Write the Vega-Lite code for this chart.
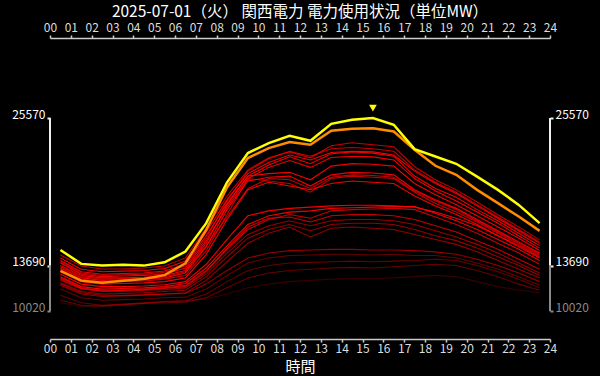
{
"$schema": "https://vega.github.io/schema/vega-lite/v6.json",
"width": 500, "height": 301,
"autosize": "none",
"padding": {"left": 50, "right": 50, "top": 38, "bottom": 37},
"background": "#000000",
"config": {"view": {"stroke": null}, "font": "Noto Sans CJK JP", "axis": {"grid": false}},
"title": {"text": "2025-07-01（火） 関西電力 電力使用状況（単位MW）", "color": "#ffffff", "fontSize": 15.5, "fontWeight": "normal", "font": "Noto Sans CJK JP", "offset": 4, "dy": 3, "anchor": "middle"},
"datasets": {
"frame": [
{"h": 0, "lo": 10020, "hi": 13690, "part": "lower"},
{"h": 0, "lo": 13690, "hi": 25570, "part": "upper"},
{"h": 24, "lo": 10020, "hi": 13690, "part": "lower"},
{"h": 24, "lo": 13690, "hi": 25570, "part": "upper"}
],
"load": [
{"s":"Y","k":0,"h":0.5,"v":14950},{"s":"Y","k":0,"h":1.5,"v":13830},{"s":"Y","k":0,"h":2.5,"v":13690},{"s":"Y","k":0,"h":3.5,"v":13750},{"s":"Y","k":0,"h":4.5,"v":13690},{"s":"Y","k":0,"h":5.5,"v":13960},{"s":"Y","k":0,"h":6.5,"v":14820},{"s":"Y","k":0,"h":7.5,"v":17110},{"s":"Y","k":0,"h":8.5,"v":20400},{"s":"Y","k":0,"h":9.5,"v":22750},{"s":"Y","k":0,"h":10.5,"v":23560},{"s":"Y","k":0,"h":11.5,"v":24140},{"s":"Y","k":0,"h":12.5,"v":23740},{"s":"Y","k":0,"h":13.5,"v":25110},{"s":"Y","k":0,"h":14.5,"v":25430},{"s":"Y","k":0,"h":15.5,"v":25570},{"s":"Y","k":0,"h":16.5,"v":25030},{"s":"Y","k":0,"h":17.5,"v":23070},{"s":"Y","k":0,"h":18.5,"v":22480},{"s":"Y","k":0,"h":19.5,"v":21890},{"s":"Y","k":0,"h":20.5,"v":20860},{"s":"Y","k":0,"h":21.5,"v":19790},{"s":"Y","k":0,"h":22.5,"v":18580},{"s":"Y","k":0,"h":23.5,"v":17110},
{"s":"O","k":0,"h":0.5,"v":13260},{"s":"O","k":0,"h":1.5,"v":12480},{"s":"O","k":0,"h":2.5,"v":12320},{"s":"O","k":0,"h":3.5,"v":12480},{"s":"O","k":0,"h":4.5,"v":12620},{"s":"O","k":0,"h":5.5,"v":12920},{"s":"O","k":0,"h":6.5,"v":13880},{"s":"O","k":0,"h":7.5,"v":16570},{"s":"O","k":0,"h":8.5,"v":20000},{"s":"O","k":0,"h":9.5,"v":22350},{"s":"O","k":0,"h":10.5,"v":23150},{"s":"O","k":0,"h":11.5,"v":23640},{"s":"O","k":0,"h":12.5,"v":23420},{"s":"O","k":0,"h":13.5,"v":24550},{"s":"O","k":0,"h":14.5,"v":24710},{"s":"O","k":0,"h":15.5,"v":24760},{"s":"O","k":0,"h":16.5,"v":24490},{"s":"O","k":0,"h":17.5,"v":23020},{"s":"O","k":0,"h":18.5,"v":21730},{"s":"O","k":0,"h":19.5,"v":21000},{"s":"O","k":0,"h":20.5,"v":19790},{"s":"O","k":0,"h":21.5,"v":18720},{"s":"O","k":0,"h":22.5,"v":17640},{"s":"O","k":0,"h":23.5,"v":16490},
{"s":"U1","k":2,"h":0.5,"v":14550},{"s":"U1","k":2,"h":1.5,"v":13660},{"s":"U1","k":2,"h":2.5,"v":13420},{"s":"U1","k":2,"h":3.5,"v":13420},{"s":"U1","k":2,"h":4.5,"v":13500},{"s":"U1","k":2,"h":5.5,"v":13660},{"s":"U1","k":2,"h":6.5,"v":14310},{"s":"U1","k":2,"h":7.5,"v":16730},{"s":"U1","k":2,"h":8.5,"v":19300},{"s":"U1","k":2,"h":9.5,"v":21400},{"s":"U1","k":2,"h":10.5,"v":22370},{"s":"U1","k":2,"h":11.5,"v":22850},{"s":"U1","k":2,"h":12.5,"v":22370},{"s":"U1","k":2,"h":13.5,"v":23340},{"s":"U1","k":2,"h":14.5,"v":23580},{"s":"U1","k":2,"h":15.5,"v":23420},{"s":"U1","k":2,"h":16.5,"v":23260},{"s":"U1","k":2,"h":17.5,"v":21650},{"s":"U1","k":2,"h":18.5,"v":20600},{"s":"U1","k":2,"h":19.5,"v":19790},{"s":"U1","k":2,"h":20.5,"v":18820},{"s":"U1","k":2,"h":21.5,"v":17780},{"s":"U1","k":2,"h":22.5,"v":16810},{"s":"U1","k":2,"h":23.5,"v":15760},
{"s":"U2","k":1,"h":0.5,"v":14300},{"s":"U2","k":1,"h":1.5,"v":13400},{"s":"U2","k":1,"h":2.5,"v":13200},{"s":"U2","k":1,"h":3.5,"v":13250},{"s":"U2","k":1,"h":4.5,"v":13300},{"s":"U2","k":1,"h":5.5,"v":13450},{"s":"U2","k":1,"h":6.5,"v":14050},{"s":"U2","k":1,"h":7.5,"v":16400},{"s":"U2","k":1,"h":8.5,"v":19000},{"s":"U2","k":1,"h":9.5,"v":21100},{"s":"U2","k":1,"h":10.5,"v":22000},{"s":"U2","k":1,"h":11.5,"v":22600},{"s":"U2","k":1,"h":12.5,"v":22200},{"s":"U2","k":1,"h":13.5,"v":22800},{"s":"U2","k":1,"h":14.5,"v":22900},{"s":"U2","k":1,"h":15.5,"v":22850},{"s":"U2","k":1,"h":16.5,"v":22600},{"s":"U2","k":1,"h":17.5,"v":21300},{"s":"U2","k":1,"h":18.5,"v":20300},{"s":"U2","k":1,"h":19.5,"v":19500},{"s":"U2","k":1,"h":20.5,"v":18500},{"s":"U2","k":1,"h":21.5,"v":17500},{"s":"U2","k":1,"h":22.5,"v":16500},{"s":"U2","k":1,"h":23.5,"v":15500},
{"s":"U3","k":1,"h":0.5,"v":14100},{"s":"U3","k":1,"h":1.5,"v":13200},{"s":"U3","k":1,"h":2.5,"v":13000},{"s":"U3","k":1,"h":3.5,"v":13050},{"s":"U3","k":1,"h":4.5,"v":13100},{"s":"U3","k":1,"h":5.5,"v":13250},{"s":"U3","k":1,"h":6.5,"v":13800},{"s":"U3","k":1,"h":7.5,"v":16100},{"s":"U3","k":1,"h":8.5,"v":18700},{"s":"U3","k":1,"h":9.5,"v":20900},{"s":"U3","k":1,"h":10.5,"v":21800},{"s":"U3","k":1,"h":11.5,"v":22450},{"s":"U3","k":1,"h":12.5,"v":21900},{"s":"U3","k":1,"h":13.5,"v":22700},{"s":"U3","k":1,"h":14.5,"v":22850},{"s":"U3","k":1,"h":15.5,"v":22750},{"s":"U3","k":1,"h":16.5,"v":22500},{"s":"U3","k":1,"h":17.5,"v":20900},{"s":"U3","k":1,"h":18.5,"v":19900},{"s":"U3","k":1,"h":19.5,"v":19200},{"s":"U3","k":1,"h":20.5,"v":18200},{"s":"U3","k":1,"h":21.5,"v":17300},{"s":"U3","k":1,"h":22.5,"v":16300},{"s":"U3","k":1,"h":23.5,"v":15300},
{"s":"U4","k":1,"h":0.5,"v":13900},{"s":"U4","k":1,"h":1.5,"v":13000},{"s":"U4","k":1,"h":2.5,"v":12800},{"s":"U4","k":1,"h":3.5,"v":12850},{"s":"U4","k":1,"h":4.5,"v":12900},{"s":"U4","k":1,"h":5.5,"v":13000},{"s":"U4","k":1,"h":6.5,"v":13500},{"s":"U4","k":1,"h":7.5,"v":15700},{"s":"U4","k":1,"h":8.5,"v":18400},{"s":"U4","k":1,"h":9.5,"v":20700},{"s":"U4","k":1,"h":10.5,"v":21600},{"s":"U4","k":1,"h":11.5,"v":22150},{"s":"U4","k":1,"h":12.5,"v":21600},{"s":"U4","k":1,"h":13.5,"v":22400},{"s":"U4","k":1,"h":14.5,"v":22500},{"s":"U4","k":1,"h":15.5,"v":22450},{"s":"U4","k":1,"h":16.5,"v":22200},{"s":"U4","k":1,"h":17.5,"v":20700},{"s":"U4","k":1,"h":18.5,"v":19700},{"s":"U4","k":1,"h":19.5,"v":18900},{"s":"U4","k":1,"h":20.5,"v":18000},{"s":"U4","k":1,"h":21.5,"v":17100},{"s":"U4","k":1,"h":22.5,"v":16100},{"s":"U4","k":1,"h":23.5,"v":15100},
{"s":"U5","k":1,"h":0.5,"v":13700},{"s":"U5","k":1,"h":1.5,"v":12900},{"s":"U5","k":1,"h":2.5,"v":12700},{"s":"U5","k":1,"h":3.5,"v":12700},{"s":"U5","k":1,"h":4.5,"v":12750},{"s":"U5","k":1,"h":5.5,"v":12900},{"s":"U5","k":1,"h":6.5,"v":13300},{"s":"U5","k":1,"h":7.5,"v":15500},{"s":"U5","k":1,"h":8.5,"v":18600},{"s":"U5","k":1,"h":9.5,"v":20900},{"s":"U5","k":1,"h":10.5,"v":21100},{"s":"U5","k":1,"h":11.5,"v":21200},{"s":"U5","k":1,"h":12.5,"v":20600},{"s":"U5","k":1,"h":13.5,"v":21700},{"s":"U5","k":1,"h":14.5,"v":21900},{"s":"U5","k":1,"h":15.5,"v":21850},{"s":"U5","k":1,"h":16.5,"v":21700},{"s":"U5","k":1,"h":17.5,"v":20300},{"s":"U5","k":1,"h":18.5,"v":19400},{"s":"U5","k":1,"h":19.5,"v":18600},{"s":"U5","k":1,"h":20.5,"v":17700},{"s":"U5","k":1,"h":21.5,"v":16800},{"s":"U5","k":1,"h":22.5,"v":15900},{"s":"U5","k":1,"h":23.5,"v":14900},
{"s":"U6","k":1,"h":0.5,"v":13500},{"s":"U6","k":1,"h":1.5,"v":12700},{"s":"U6","k":1,"h":2.5,"v":12500},{"s":"U6","k":1,"h":3.5,"v":12550},{"s":"U6","k":1,"h":4.5,"v":12600},{"s":"U6","k":1,"h":5.5,"v":12700},{"s":"U6","k":1,"h":6.5,"v":13100},{"s":"U6","k":1,"h":7.5,"v":15200},{"s":"U6","k":1,"h":8.5,"v":18200},{"s":"U6","k":1,"h":9.5,"v":20500},{"s":"U6","k":1,"h":10.5,"v":20800},{"s":"U6","k":1,"h":11.5,"v":20900},{"s":"U6","k":1,"h":12.5,"v":20100},{"s":"U6","k":1,"h":13.5,"v":21000},{"s":"U6","k":1,"h":14.5,"v":21200},{"s":"U6","k":1,"h":15.5,"v":21150},{"s":"U6","k":1,"h":16.5,"v":21000},{"s":"U6","k":1,"h":17.5,"v":19800},{"s":"U6","k":1,"h":18.5,"v":19000},{"s":"U6","k":1,"h":19.5,"v":18300},{"s":"U6","k":1,"h":20.5,"v":17400},{"s":"U6","k":1,"h":21.5,"v":16500},{"s":"U6","k":1,"h":22.5,"v":15600},{"s":"U6","k":1,"h":23.5,"v":14700},
{"s":"U7","k":2,"h":0.5,"v":13400},{"s":"U7","k":2,"h":1.5,"v":12600},{"s":"U7","k":2,"h":2.5,"v":12400},{"s":"U7","k":2,"h":3.5,"v":12400},{"s":"U7","k":2,"h":4.5,"v":12450},{"s":"U7","k":2,"h":5.5,"v":12600},{"s":"U7","k":2,"h":6.5,"v":12900},{"s":"U7","k":2,"h":7.5,"v":14900},{"s":"U7","k":2,"h":8.5,"v":17800},{"s":"U7","k":2,"h":9.5,"v":20700},{"s":"U7","k":2,"h":10.5,"v":20500},{"s":"U7","k":2,"h":11.5,"v":20300},{"s":"U7","k":2,"h":12.5,"v":19600},{"s":"U7","k":2,"h":13.5,"v":20700},{"s":"U7","k":2,"h":14.5,"v":20900},{"s":"U7","k":2,"h":15.5,"v":20800},{"s":"U7","k":2,"h":16.5,"v":20700},{"s":"U7","k":2,"h":17.5,"v":19600},{"s":"U7","k":2,"h":18.5,"v":18700},{"s":"U7","k":2,"h":19.5,"v":18000},{"s":"U7","k":2,"h":20.5,"v":17200},{"s":"U7","k":2,"h":21.5,"v":16300},{"s":"U7","k":2,"h":22.5,"v":15400},{"s":"U7","k":2,"h":23.5,"v":14500},
{"s":"U8","k":1,"h":0.5,"v":13200},{"s":"U8","k":1,"h":1.5,"v":12400},{"s":"U8","k":1,"h":2.5,"v":12200},{"s":"U8","k":1,"h":3.5,"v":12250},{"s":"U8","k":1,"h":4.5,"v":12300},{"s":"U8","k":1,"h":5.5,"v":12400},{"s":"U8","k":1,"h":6.5,"v":12700},{"s":"U8","k":1,"h":7.5,"v":14600},{"s":"U8","k":1,"h":8.5,"v":17400},{"s":"U8","k":1,"h":9.5,"v":19800},{"s":"U8","k":1,"h":10.5,"v":20400},{"s":"U8","k":1,"h":11.5,"v":20100},{"s":"U8","k":1,"h":12.5,"v":19800},{"s":"U8","k":1,"h":13.5,"v":20300},{"s":"U8","k":1,"h":14.5,"v":20500},{"s":"U8","k":1,"h":15.5,"v":20400},{"s":"U8","k":1,"h":16.5,"v":20300},{"s":"U8","k":1,"h":17.5,"v":19300},{"s":"U8","k":1,"h":18.5,"v":18500},{"s":"U8","k":1,"h":19.5,"v":17800},{"s":"U8","k":1,"h":20.5,"v":17000},{"s":"U8","k":1,"h":21.5,"v":16100},{"s":"U8","k":1,"h":22.5,"v":15200},{"s":"U8","k":1,"h":23.5,"v":14300},
{"s":"U9","k":2,"h":0.5,"v":14000},{"s":"U9","k":2,"h":1.5,"v":13100},{"s":"U9","k":2,"h":2.5,"v":12900},{"s":"U9","k":2,"h":3.5,"v":12950},{"s":"U9","k":2,"h":4.5,"v":13000},{"s":"U9","k":2,"h":5.5,"v":13150},{"s":"U9","k":2,"h":6.5,"v":13650},{"s":"U9","k":2,"h":7.5,"v":15900},{"s":"U9","k":2,"h":8.5,"v":18900},{"s":"U9","k":2,"h":9.5,"v":21300},{"s":"U9","k":2,"h":10.5,"v":22300},{"s":"U9","k":2,"h":11.5,"v":22900},{"s":"U9","k":2,"h":12.5,"v":22500},{"s":"U9","k":2,"h":13.5,"v":23100},{"s":"U9","k":2,"h":14.5,"v":23200},{"s":"U9","k":2,"h":15.5,"v":23100},{"s":"U9","k":2,"h":16.5,"v":22900},{"s":"U9","k":2,"h":17.5,"v":21400},{"s":"U9","k":2,"h":18.5,"v":20400},{"s":"U9","k":2,"h":19.5,"v":19600},{"s":"U9","k":2,"h":20.5,"v":18600},{"s":"U9","k":2,"h":21.5,"v":17600},{"s":"U9","k":2,"h":22.5,"v":16600},{"s":"U9","k":2,"h":23.5,"v":15600},
{"s":"U10","k":2,"h":0.5,"v":13600},{"s":"U10","k":2,"h":1.5,"v":12800},{"s":"U10","k":2,"h":2.5,"v":12600},{"s":"U10","k":2,"h":3.5,"v":12650},{"s":"U10","k":2,"h":4.5,"v":12700},{"s":"U10","k":2,"h":5.5,"v":12800},{"s":"U10","k":2,"h":6.5,"v":13200},{"s":"U10","k":2,"h":7.5,"v":15300},{"s":"U10","k":2,"h":8.5,"v":17600},{"s":"U10","k":2,"h":9.5,"v":19900},{"s":"U10","k":2,"h":10.5,"v":20700},{"s":"U10","k":2,"h":11.5,"v":20600},{"s":"U10","k":2,"h":12.5,"v":19900},{"s":"U10","k":2,"h":13.5,"v":20800},{"s":"U10","k":2,"h":14.5,"v":21000},{"s":"U10","k":2,"h":15.5,"v":20950},{"s":"U10","k":2,"h":16.5,"v":20800},{"s":"U10","k":2,"h":17.5,"v":19700},{"s":"U10","k":2,"h":18.5,"v":18900},{"s":"U10","k":2,"h":19.5,"v":18200},{"s":"U10","k":2,"h":20.5,"v":17300},{"s":"U10","k":2,"h":21.5,"v":16400},{"s":"U10","k":2,"h":22.5,"v":15500},{"s":"U10","k":2,"h":23.5,"v":14600},
{"s":"M1","k":1,"h":0.5,"v":13000},{"s":"M1","k":1,"h":1.5,"v":12200},{"s":"M1","k":1,"h":2.5,"v":12000},{"s":"M1","k":1,"h":3.5,"v":12000},{"s":"M1","k":1,"h":4.5,"v":12050},{"s":"M1","k":1,"h":5.5,"v":12150},{"s":"M1","k":1,"h":6.5,"v":12400},{"s":"M1","k":1,"h":7.5,"v":13800},{"s":"M1","k":1,"h":8.5,"v":15800},{"s":"M1","k":1,"h":9.5,"v":17700},{"s":"M1","k":1,"h":10.5,"v":18100},{"s":"M1","k":1,"h":11.5,"v":18300},{"s":"M1","k":1,"h":12.5,"v":18400},{"s":"M1","k":1,"h":13.5,"v":18500},{"s":"M1","k":1,"h":14.5,"v":18550},{"s":"M1","k":1,"h":15.5,"v":18550},{"s":"M1","k":1,"h":16.5,"v":18500},{"s":"M1","k":1,"h":17.5,"v":18400},{"s":"M1","k":1,"h":18.5,"v":18000},{"s":"M1","k":1,"h":19.5,"v":17500},{"s":"M1","k":1,"h":20.5,"v":16900},{"s":"M1","k":1,"h":21.5,"v":16100},{"s":"M1","k":1,"h":22.5,"v":15300},{"s":"M1","k":1,"h":23.5,"v":14400},
{"s":"M2","k":1,"h":0.5,"v":12800},{"s":"M2","k":1,"h":1.5,"v":12000},{"s":"M2","k":1,"h":2.5,"v":11800},{"s":"M2","k":1,"h":3.5,"v":11850},{"s":"M2","k":1,"h":4.5,"v":11900},{"s":"M2","k":1,"h":5.5,"v":12000},{"s":"M2","k":1,"h":6.5,"v":12250},{"s":"M2","k":1,"h":7.5,"v":13500},{"s":"M2","k":1,"h":8.5,"v":15300},{"s":"M2","k":1,"h":9.5,"v":17000},{"s":"M2","k":1,"h":10.5,"v":17700},{"s":"M2","k":1,"h":11.5,"v":18000},{"s":"M2","k":1,"h":12.5,"v":18100},{"s":"M2","k":1,"h":13.5,"v":18300},{"s":"M2","k":1,"h":14.5,"v":18350},{"s":"M2","k":1,"h":15.5,"v":18400},{"s":"M2","k":1,"h":16.5,"v":18450},{"s":"M2","k":1,"h":17.5,"v":18450},{"s":"M2","k":1,"h":18.5,"v":17900},{"s":"M2","k":1,"h":19.5,"v":17300},{"s":"M2","k":1,"h":20.5,"v":16600},{"s":"M2","k":1,"h":21.5,"v":15800},{"s":"M2","k":1,"h":22.5,"v":15000},{"s":"M2","k":1,"h":23.5,"v":14100},
{"s":"M3","k":2,"h":0.5,"v":12700},{"s":"M3","k":2,"h":1.5,"v":11900},{"s":"M3","k":2,"h":2.5,"v":11700},{"s":"M3","k":2,"h":3.5,"v":11700},{"s":"M3","k":2,"h":4.5,"v":11800},{"s":"M3","k":2,"h":5.5,"v":11900},{"s":"M3","k":2,"h":6.5,"v":12100},{"s":"M3","k":2,"h":7.5,"v":13300},{"s":"M3","k":2,"h":8.5,"v":15000},{"s":"M3","k":2,"h":9.5,"v":16600},{"s":"M3","k":2,"h":10.5,"v":17400},{"s":"M3","k":2,"h":11.5,"v":17800},{"s":"M3","k":2,"h":12.5,"v":17500},{"s":"M3","k":2,"h":13.5,"v":18100},{"s":"M3","k":2,"h":14.5,"v":18200},{"s":"M3","k":2,"h":15.5,"v":18250},{"s":"M3","k":2,"h":16.5,"v":18300},{"s":"M3","k":2,"h":17.5,"v":18200},{"s":"M3","k":2,"h":18.5,"v":17600},{"s":"M3","k":2,"h":19.5,"v":17000},{"s":"M3","k":2,"h":20.5,"v":16300},{"s":"M3","k":2,"h":21.5,"v":15500},{"s":"M3","k":2,"h":22.5,"v":14700},{"s":"M3","k":2,"h":23.5,"v":13800},
{"s":"M4","k":3,"h":0.5,"v":12500},{"s":"M4","k":3,"h":1.5,"v":11800},{"s":"M4","k":3,"h":2.5,"v":11600},{"s":"M4","k":3,"h":3.5,"v":11600},{"s":"M4","k":3,"h":4.5,"v":11700},{"s":"M4","k":3,"h":5.5,"v":11750},{"s":"M4","k":3,"h":6.5,"v":11900},{"s":"M4","k":3,"h":7.5,"v":13000},{"s":"M4","k":3,"h":8.5,"v":14700},{"s":"M4","k":3,"h":9.5,"v":16200},{"s":"M4","k":3,"h":10.5,"v":16900},{"s":"M4","k":3,"h":11.5,"v":17300},{"s":"M4","k":3,"h":12.5,"v":16900},{"s":"M4","k":3,"h":13.5,"v":17300},{"s":"M4","k":3,"h":14.5,"v":17400},{"s":"M4","k":3,"h":15.5,"v":17400},{"s":"M4","k":3,"h":16.5,"v":17300},{"s":"M4","k":3,"h":17.5,"v":17000},{"s":"M4","k":3,"h":18.5,"v":16500},{"s":"M4","k":3,"h":19.5,"v":16000},{"s":"M4","k":3,"h":20.5,"v":15400},{"s":"M4","k":3,"h":21.5,"v":14700},{"s":"M4","k":3,"h":22.5,"v":13900},{"s":"M4","k":3,"h":23.5,"v":13100},
{"s":"M5","k":3,"h":0.5,"v":12300},{"s":"M5","k":3,"h":1.5,"v":11600},{"s":"M5","k":3,"h":2.5,"v":11400},{"s":"M5","k":3,"h":3.5,"v":11450},{"s":"M5","k":3,"h":4.5,"v":11500},{"s":"M5","k":3,"h":5.5,"v":11600},{"s":"M5","k":3,"h":6.5,"v":11700},{"s":"M5","k":3,"h":7.5,"v":12800},{"s":"M5","k":3,"h":8.5,"v":14400},{"s":"M5","k":3,"h":9.5,"v":15900},{"s":"M5","k":3,"h":10.5,"v":16600},{"s":"M5","k":3,"h":11.5,"v":17000},{"s":"M5","k":3,"h":12.5,"v":16500},{"s":"M5","k":3,"h":13.5,"v":17000},{"s":"M5","k":3,"h":14.5,"v":17100},{"s":"M5","k":3,"h":15.5,"v":17100},{"s":"M5","k":3,"h":16.5,"v":17000},{"s":"M5","k":3,"h":17.5,"v":16600},{"s":"M5","k":3,"h":18.5,"v":16100},{"s":"M5","k":3,"h":19.5,"v":15700},{"s":"M5","k":3,"h":20.5,"v":15100},{"s":"M5","k":3,"h":21.5,"v":14400},{"s":"M5","k":3,"h":22.5,"v":13700},{"s":"M5","k":3,"h":23.5,"v":12900},
{"s":"M6","k":3,"h":0.5,"v":12100},{"s":"M6","k":3,"h":1.5,"v":11400},{"s":"M6","k":3,"h":2.5,"v":11200},{"s":"M6","k":3,"h":3.5,"v":11250},{"s":"M6","k":3,"h":4.5,"v":11300},{"s":"M6","k":3,"h":5.5,"v":11400},{"s":"M6","k":3,"h":6.5,"v":11500},{"s":"M6","k":3,"h":7.5,"v":12500},{"s":"M6","k":3,"h":8.5,"v":14000},{"s":"M6","k":3,"h":9.5,"v":15500},{"s":"M6","k":3,"h":10.5,"v":16300},{"s":"M6","k":3,"h":11.5,"v":16800},{"s":"M6","k":3,"h":12.5,"v":16000},{"s":"M6","k":3,"h":13.5,"v":16700},{"s":"M6","k":3,"h":14.5,"v":16800},{"s":"M6","k":3,"h":15.5,"v":16700},{"s":"M6","k":3,"h":16.5,"v":16600},{"s":"M6","k":3,"h":17.5,"v":16200},{"s":"M6","k":3,"h":18.5,"v":15800},{"s":"M6","k":3,"h":19.5,"v":15400},{"s":"M6","k":3,"h":20.5,"v":14800},{"s":"M6","k":3,"h":21.5,"v":14100},{"s":"M6","k":3,"h":22.5,"v":13400},{"s":"M6","k":3,"h":23.5,"v":12700},
{"s":"M7","k":2,"h":0.5,"v":12600},{"s":"M7","k":2,"h":1.5,"v":11850},{"s":"M7","k":2,"h":2.5,"v":11650},{"s":"M7","k":2,"h":3.5,"v":11700},{"s":"M7","k":2,"h":4.5,"v":11750},{"s":"M7","k":2,"h":5.5,"v":11850},{"s":"M7","k":2,"h":6.5,"v":12000},{"s":"M7","k":2,"h":7.5,"v":13200},{"s":"M7","k":2,"h":8.5,"v":15100},{"s":"M7","k":2,"h":9.5,"v":16800},{"s":"M7","k":2,"h":10.5,"v":17500},{"s":"M7","k":2,"h":11.5,"v":17600},{"s":"M7","k":2,"h":12.5,"v":17200},{"s":"M7","k":2,"h":13.5,"v":17700},{"s":"M7","k":2,"h":14.5,"v":17800},{"s":"M7","k":2,"h":15.5,"v":17800},{"s":"M7","k":2,"h":16.5,"v":17700},{"s":"M7","k":2,"h":17.5,"v":17400},{"s":"M7","k":2,"h":18.5,"v":16900},{"s":"M7","k":2,"h":19.5,"v":16400},{"s":"M7","k":2,"h":20.5,"v":15700},{"s":"M7","k":2,"h":21.5,"v":15000},{"s":"M7","k":2,"h":22.5,"v":14200},{"s":"M7","k":2,"h":23.5,"v":13400},
{"s":"L1","k":3,"h":0.5,"v":12200},{"s":"L1","k":3,"h":1.5,"v":11500},{"s":"L1","k":3,"h":2.5,"v":11300},{"s":"L1","k":3,"h":3.5,"v":11300},{"s":"L1","k":3,"h":4.5,"v":11350},{"s":"L1","k":3,"h":5.5,"v":11400},{"s":"L1","k":3,"h":6.5,"v":11450},{"s":"L1","k":3,"h":7.5,"v":12200},{"s":"L1","k":3,"h":8.5,"v":13300},{"s":"L1","k":3,"h":9.5,"v":14300},{"s":"L1","k":3,"h":10.5,"v":14700},{"s":"L1","k":3,"h":11.5,"v":14900},{"s":"L1","k":3,"h":12.5,"v":14950},{"s":"L1","k":3,"h":13.5,"v":15000},{"s":"L1","k":3,"h":14.5,"v":15000},{"s":"L1","k":3,"h":15.5,"v":14950},{"s":"L1","k":3,"h":16.5,"v":14950},{"s":"L1","k":3,"h":17.5,"v":14900},{"s":"L1","k":3,"h":18.5,"v":14800},{"s":"L1","k":3,"h":19.5,"v":14600},{"s":"L1","k":3,"h":20.5,"v":14200},{"s":"L1","k":3,"h":21.5,"v":13700},{"s":"L1","k":3,"h":22.5,"v":13100},{"s":"L1","k":3,"h":23.5,"v":12400},
{"s":"L2","k":4,"h":0.5,"v":11800},{"s":"L2","k":4,"h":1.5,"v":11100},{"s":"L2","k":4,"h":2.5,"v":10900},{"s":"L2","k":4,"h":3.5,"v":10950},{"s":"L2","k":4,"h":4.5,"v":11000},{"s":"L2","k":4,"h":5.5,"v":11100},{"s":"L2","k":4,"h":6.5,"v":11150},{"s":"L2","k":4,"h":7.5,"v":11800},{"s":"L2","k":4,"h":8.5,"v":12900},{"s":"L2","k":4,"h":9.5,"v":13900},{"s":"L2","k":4,"h":10.5,"v":14300},{"s":"L2","k":4,"h":11.5,"v":14500},{"s":"L2","k":4,"h":12.5,"v":14550},{"s":"L2","k":4,"h":13.5,"v":14600},{"s":"L2","k":4,"h":14.5,"v":14600},{"s":"L2","k":4,"h":15.5,"v":14550},{"s":"L2","k":4,"h":16.5,"v":14600},{"s":"L2","k":4,"h":17.5,"v":14500},{"s":"L2","k":4,"h":18.5,"v":14500},{"s":"L2","k":4,"h":19.5,"v":14300},{"s":"L2","k":4,"h":20.5,"v":13900},{"s":"L2","k":4,"h":21.5,"v":13400},{"s":"L2","k":4,"h":22.5,"v":12800},{"s":"L2","k":4,"h":23.5,"v":12100},
{"s":"L3","k":4,"h":0.5,"v":11300},{"s":"L3","k":4,"h":1.5,"v":10700},{"s":"L3","k":4,"h":2.5,"v":10500},{"s":"L3","k":4,"h":3.5,"v":10600},{"s":"L3","k":4,"h":4.5,"v":10700},{"s":"L3","k":4,"h":5.5,"v":10800},{"s":"L3","k":4,"h":6.5,"v":10850},{"s":"L3","k":4,"h":7.5,"v":11400},{"s":"L3","k":4,"h":8.5,"v":12400},{"s":"L3","k":4,"h":9.5,"v":13300},{"s":"L3","k":4,"h":10.5,"v":13700},{"s":"L3","k":4,"h":11.5,"v":13900},{"s":"L3","k":4,"h":12.5,"v":13950},{"s":"L3","k":4,"h":13.5,"v":14000},{"s":"L3","k":4,"h":14.5,"v":14050},{"s":"L3","k":4,"h":15.5,"v":14000},{"s":"L3","k":4,"h":16.5,"v":14050},{"s":"L3","k":4,"h":17.5,"v":14100},{"s":"L3","k":4,"h":18.5,"v":14200},{"s":"L3","k":4,"h":19.5,"v":14100},{"s":"L3","k":4,"h":20.5,"v":13700},{"s":"L3","k":4,"h":21.5,"v":13200},{"s":"L3","k":4,"h":22.5,"v":12600},{"s":"L3","k":4,"h":23.5,"v":11900},
{"s":"L4","k":4,"h":0.5,"v":10900},{"s":"L4","k":4,"h":1.5,"v":10500},{"s":"L4","k":4,"h":2.5,"v":10450},{"s":"L4","k":4,"h":3.5,"v":10550},{"s":"L4","k":4,"h":4.5,"v":10650},{"s":"L4","k":4,"h":5.5,"v":10700},{"s":"L4","k":4,"h":6.5,"v":10750},{"s":"L4","k":4,"h":7.5,"v":11100},{"s":"L4","k":4,"h":8.5,"v":11900},{"s":"L4","k":4,"h":9.5,"v":12700},{"s":"L4","k":4,"h":10.5,"v":13100},{"s":"L4","k":4,"h":11.5,"v":13300},{"s":"L4","k":4,"h":12.5,"v":13400},{"s":"L4","k":4,"h":13.5,"v":13500},{"s":"L4","k":4,"h":14.5,"v":13550},{"s":"L4","k":4,"h":15.5,"v":13500},{"s":"L4","k":4,"h":16.5,"v":13600},{"s":"L4","k":4,"h":17.5,"v":13700},{"s":"L4","k":4,"h":18.5,"v":13800},{"s":"L4","k":4,"h":19.5,"v":13700},{"s":"L4","k":4,"h":20.5,"v":13300},{"s":"L4","k":4,"h":21.5,"v":12800},{"s":"L4","k":4,"h":22.5,"v":12200},{"s":"L4","k":4,"h":23.5,"v":11700},
{"s":"L5","k":5,"h":0.5,"v":10700},{"s":"L5","k":5,"h":1.5,"v":10400},{"s":"L5","k":5,"h":2.5,"v":10420},{"s":"L5","k":5,"h":3.5,"v":10500},{"s":"L5","k":5,"h":4.5,"v":10650},{"s":"L5","k":5,"h":5.5,"v":10800},{"s":"L5","k":5,"h":6.5,"v":10850},{"s":"L5","k":5,"h":7.5,"v":11000},{"s":"L5","k":5,"h":8.5,"v":11400},{"s":"L5","k":5,"h":9.5,"v":11900},{"s":"L5","k":5,"h":10.5,"v":12200},{"s":"L5","k":5,"h":11.5,"v":12400},{"s":"L5","k":5,"h":12.5,"v":12500},{"s":"L5","k":5,"h":13.5,"v":12600},{"s":"L5","k":5,"h":14.5,"v":12650},{"s":"L5","k":5,"h":15.5,"v":12650},{"s":"L5","k":5,"h":16.5,"v":12700},{"s":"L5","k":5,"h":17.5,"v":12800},{"s":"L5","k":5,"h":18.5,"v":12900},{"s":"L5","k":5,"h":19.5,"v":12800},{"s":"L5","k":5,"h":20.5,"v":12400},{"s":"L5","k":5,"h":21.5,"v":12000},{"s":"L5","k":5,"h":22.5,"v":11700},{"s":"L5","k":5,"h":23.5,"v":11500}
]
},
"layer": [
{"data": {"name": "frame"}, "transform": [{"filter": "datum.part == 'lower'"}],
 "mark": {"type": "rule", "color": "#8a8a8a", "strokeWidth": 2},
 "encoding": {
  "x": {"field": "h", "type": "quantitative", "scale": {"domain": [0, 24], "nice": false, "zero": false}, "axis": null},
  "y": {"field": "lo", "type": "quantitative", "scale": {"domain": [7780, 32020], "nice": false, "zero": false}, "axis": null},
  "y2": {"field": "hi"}}},
{"data": {"name": "frame"}, "transform": [{"filter": "datum.part == 'upper'"}],
 "mark": {"type": "rule", "color": "#eeeeee", "strokeWidth": 2},
 "encoding": {
  "x": {"field": "h", "type": "quantitative", "axis": null},
  "y": {"field": "lo", "type": "quantitative", "axis": null},
  "y2": {"field": "hi"}}},
{"data": {"name": "load"}, "transform": [{"filter": "datum.k > 0"}],
 "mark": {"type": "line", "color": "#ff0000", "strokeWidth": 1.1},
 "encoding": {
  "x": {"field": "h", "type": "quantitative", "axis": {"orient": "bottom", "values": [0,1,2,3,4,5,6,7,8,9,10,11,12,13,14,15,16,17,18,19,20,21,22,23,24], "labelExpr": "(datum.value < 10 ? '0' : '') + datum.value", "title": "時間", "titleColor": "#ffffff", "titleFontSize": 15, "titleFontWeight": "normal", "titlePadding": 5, "labelColor": "#dddddd", "labelFontSize": 12, "labelFlush": false, "labelOverlap": false, "tickColor": "#cccccc", "domainColor": "#cccccc", "domainWidth": 1.5, "tickSize": 3, "tickWidth": 1.5, "labelPadding": 1}},
  "y": {"field": "v", "type": "quantitative", "axis": {"orient": "left", "values": [10020, 13690, 25570], "format": "d", "title": null, "domain": false, "tickSize": 3, "tickWidth": 2, "tickColor": {"condition": {"test": "datum.value < 13000", "value": "#8a8a8a"}, "value": "#eeeeee"}, "labelColor": {"condition": {"test": "datum.value < 13000", "value": "#8a8a8a"}, "value": "#ffffff"}, "labelFontSize": 12, "labelPadding": 2, "labelBaseline": "alphabetic"}},
  "detail": {"field": "s"},
  "opacity": {"field": "k", "type": "quantitative", "scale": {"domain": [1, 5], "range": [0.95, 0.22]}, "legend": null}}},
{"data": {"name": "load"}, "transform": [{"filter": "datum.s == 'O'"}],
 "mark": {"type": "line", "color": "#ff8c00", "strokeWidth": 2.5},
 "encoding": {
  "x": {"field": "h", "type": "quantitative", "axis": {"orient": "top", "values": [0,1,2,3,4,5,6,7,8,9,10,11,12,13,14,15,16,17,18,19,20,21,22,23,24], "labelExpr": "(datum.value < 10 ? '0' : '') + datum.value", "title": null, "labelColor": "#dddddd", "labelFontSize": 12, "labelFlush": false, "labelOverlap": false, "tickColor": "#cccccc", "domainColor": "#cccccc", "domainWidth": 1.5, "tickSize": 3, "tickWidth": 1.5, "labelPadding": 1}},
  "y": {"field": "v", "type": "quantitative", "axis": {"orient": "right", "values": [10020, 13690, 25570], "format": "d", "title": null, "domain": false, "tickSize": 3, "tickWidth": 2, "tickColor": {"condition": {"test": "datum.value < 13000", "value": "#8a8a8a"}, "value": "#eeeeee"}, "labelColor": {"condition": {"test": "datum.value < 13000", "value": "#8a8a8a"}, "value": "#ffffff"}, "labelFontSize": 12, "labelPadding": 2, "labelBaseline": "alphabetic"}}}},
{"data": {"name": "load"}, "transform": [{"filter": "datum.s == 'Y'"}],
 "mark": {"type": "line", "color": "#ffff00", "strokeWidth": 2.5},
 "encoding": {
  "x": {"field": "h", "type": "quantitative", "axis": null},
  "y": {"field": "v", "type": "quantitative", "axis": null}}},
{"data": {"name": "load"}, "transform": [{"filter": "datum.s == 'Y' && datum.h == 15.5"}],
 "mark": {"type": "point", "shape": "triangle-down", "filled": true, "color": "#ffff00", "opacity": 1, "size": 60, "yOffset": -10},
 "encoding": {
  "x": {"field": "h", "type": "quantitative", "axis": null},
  "y": {"field": "v", "type": "quantitative", "axis": null}}}
],
"resolve": {"axis": {"x": "independent", "y": "independent"}}
}
